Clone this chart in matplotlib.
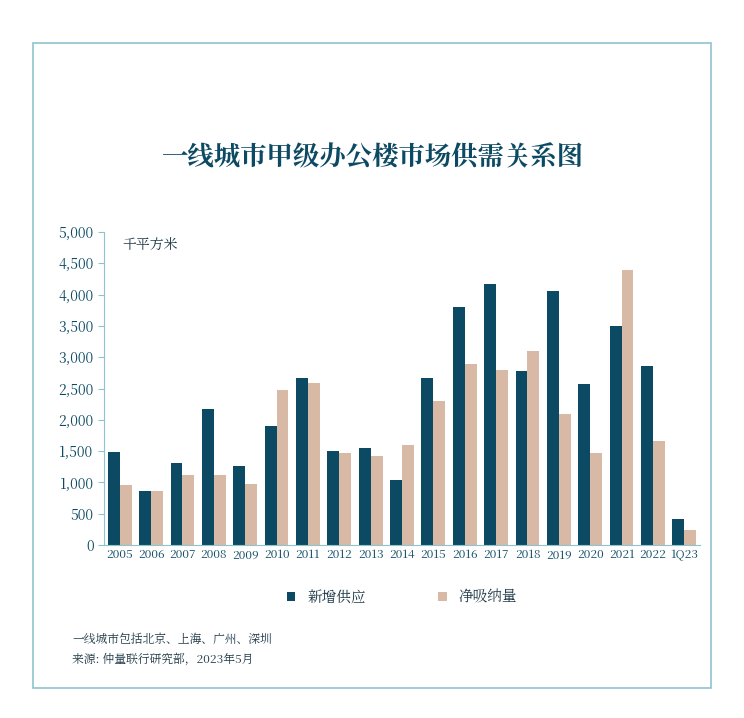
import matplotlib
matplotlib.use('agg')
import numpy as np
import matplotlib.pyplot as plt
from matplotlib import font_manager
from matplotlib.patches import Rectangle

# pick whatever CJK font is actually registered
cjk = [f.name for f in font_manager.fontManager.ttflist if 'CJK' in f.name]
pref = [n for n in cjk if 'SC' in n] or cjk
plt.rcParams['font.family'] = 'sans-serif'
plt.rcParams['font.sans-serif'] = pref[:1] + ['DejaVu Sans']

years = ['2005', '2006', '2007', '2008', '2009', '2010', '2011', '2012', '2013', '2014',
         '2015', '2016', '2017', '2018', '2019', '2020', '2021', '2022', '1Q23']
supply = [1490, 870, 1310, 2180, 1260, 1900, 2670, 1500, 1550, 1040,
          2670, 3800, 4170, 2780, 4060, 2570, 3500, 2860, 415]
absorb = [960, 870, 1120, 1120, 970, 2480, 2590, 1470, 1420, 1590,
          2300, 2890, 2800, 3100, 2100, 1470, 4390, 1660, 240]
yticks = [0, 500, 1000, 1500, 2000, 2500, 3000, 3500, 4000, 4500, 5000]

dark = '#0c4a64'
tan = '#d8b9a5'
line = '#8fc4cf'
txt = '#1f3a48'

fig = plt.figure(figsize=(7.44, 7.18), dpi=100)
fig.patches.append(Rectangle((33 / 744, 1 - 688 / 718), 678 / 744, 645 / 718,
                             transform=fig.transFigure, fill=False, edgecolor=line, linewidth=1.2))
fig.text(0.5, 1 - 158 / 718, '一线城市甲级办公楼市场供需关系图', ha='center', va='center',
         fontsize=19, color=dark, fontweight='bold')

ax = fig.add_axes([104 / 744, 1 - 545 / 718, 596 / 744, 313 / 718])
x = np.arange(len(years))
w = 0.38
ax.bar(x - w / 2, supply, w, color=dark, label='新增供应')
ax.bar(x + w / 2, absorb, w, color=tan, label='净吸纳量')
ax.set_xlim(-0.5, len(years) - 0.5)
ax.set_ylim(0, 5000)
ax.set_yticks(yticks)
ax.set_yticklabels([f'{v:,}' for v in yticks])
ax.set_xticks(x)
ax.set_xticklabels(years)
ax.tick_params(axis='both', colors=line, labelcolor=dark, labelsize=10, length=4)
ax.tick_params(axis='x', length=0, labelsize=8.5, pad=3)
for s in ['top', 'right']:
    ax.spines[s].set_visible(False)
for s in ['left', 'bottom']:
    ax.spines[s].set_color(line)
ax.text(0.03, 0.98, '千平方米', transform=ax.transAxes, fontsize=10, color=txt, va='top')
ax.legend(loc='upper center', bbox_to_anchor=(0.5, -0.1), ncol=2, frameon=False,
          fontsize=10.5, handlelength=0.6, handleheight=0.6, columnspacing=5, labelcolor=txt)

fig.text(72 / 744, 1 - 640 / 718, '一线城市包括北京、上海、广州、深圳', fontsize=8.5, color=txt, va='center')
fig.text(72 / 744, 1 - 659 / 718, '来源: 仲量联行研究部，2023年5月', fontsize=8.5, color=txt, va='center')

fig.savefig('out.png', dpi=100, facecolor='white')
